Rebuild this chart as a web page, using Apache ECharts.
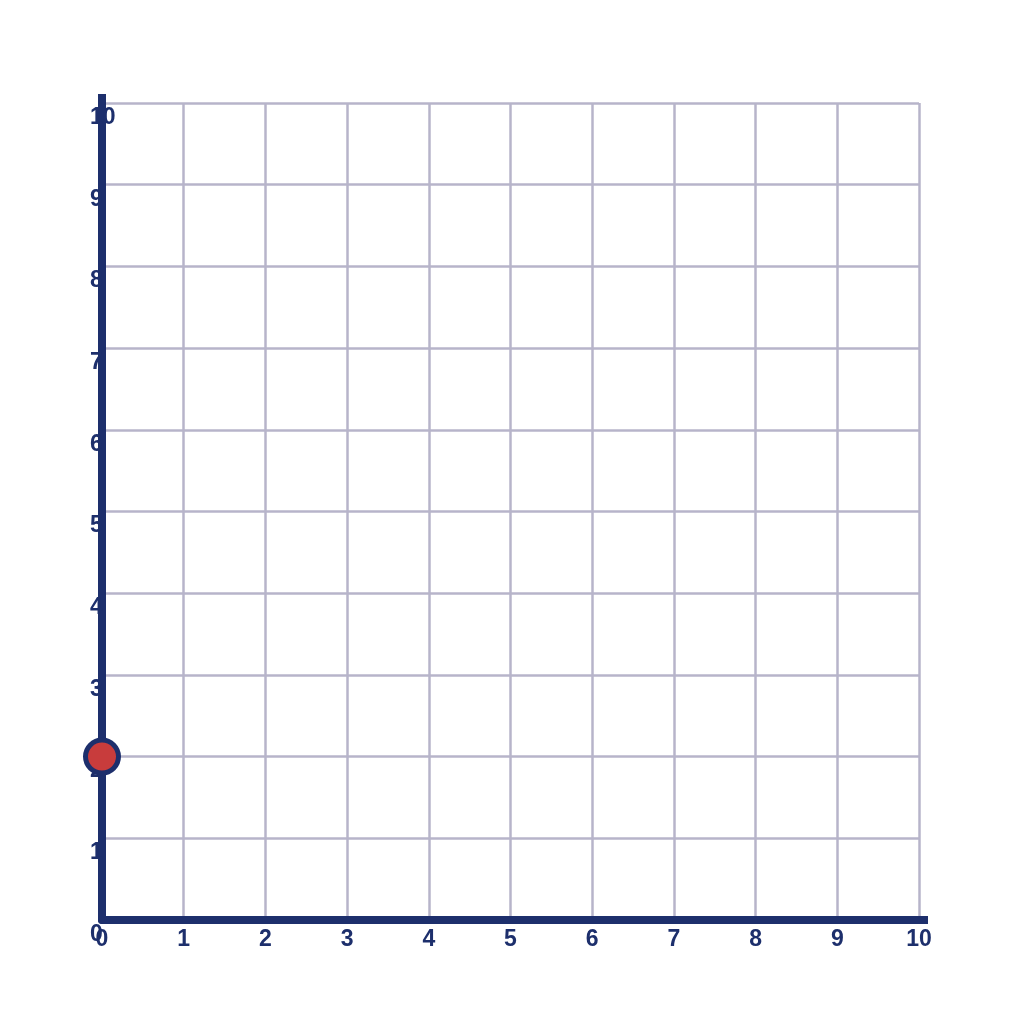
<!DOCTYPE html>
<html>
<head>
<meta charset="utf-8">
<script src="https://cdn.jsdelivr.net/npm/echarts@6/dist/echarts.min.js"></script>
<style>html,body{margin:0;padding:0;background:#fff;}#c{width:1024px;height:1024px;}</style>
</head>
<body>
<div id="c"></div>
<script>
var xTicks = [0,1,2,3,4,5,6,7,8,9,10];
var yTicks = [0,1,2,3,4,5,6,7,8,9,10];
var points = [[0, 2]];

var navy = '#1d2f6c';
var gridColor = '#b7b4ca';
var chart = echarts.init(document.getElementById('c'));
chart.setOption({
  animation: false,
  grid: {left: 102, right: 105, top: 103, bottom: 104, containLabel: false},
  xAxis: {
    type: 'value', min: xTicks[0], max: xTicks[xTicks.length-1], interval: 1,
    axisLine: {show: true, onZero: false, symbol: ['none','rect'], symbolSize: [8, 18], lineStyle: {color: navy, width: 8}},
    axisTick: {show: false},
    splitLine: {show: true, lineStyle: {color: gridColor, width: 2.5}},
    axisLabel: {color: navy, fontSize: 23, fontWeight: 'bold', fontFamily: 'Liberation Sans, Arial', margin: 8}
  },
  yAxis: {
    type: 'value', min: yTicks[0], max: yTicks[yTicks.length-1], interval: 1,
    axisLine: {show: true, onZero: false, symbol: ['none','rect'], symbolSize: [8, 18], lineStyle: {color: navy, width: 8}},
    axisTick: {show: false},
    splitLine: {show: true, lineStyle: {color: gridColor, width: 2.5}},
    axisLabel: {color: navy, fontSize: 23, fontWeight: 'bold', fontFamily: 'Liberation Sans, Arial', margin: 12, align: 'left', verticalAlign: 'top', padding: [3,0,0,0]}
  },
  series: [{
    type: 'scatter', data: points, symbol: 'circle', symbolSize: 33, z: 10,
    itemStyle: {color: '#c83c3c', borderColor: navy, borderWidth: 5, opacity: 1}
  }]
});
</script>
</body>
</html>
